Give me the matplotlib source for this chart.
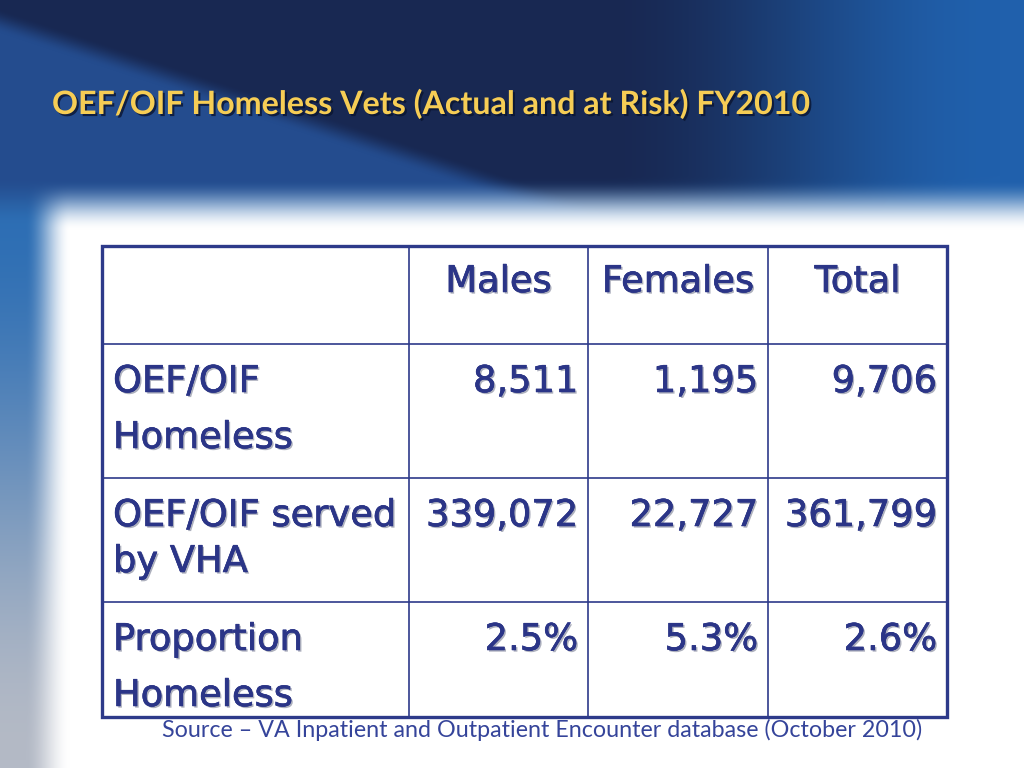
import numpy as np
import matplotlib
matplotlib.use("Agg")
import matplotlib.pyplot as plt
import matplotlib.patheffects as pe

# Table content
title = "OEF/OIF Homeless Vets (Actual and at Risk) FY2010"
source = "Source \u2013 VA Inpatient and Outpatient Encounter database (October 2010)"
columns = ["Males", "Females", "Total"]
row_labels = [["OEF/OIF", "Homeless"], ["OEF/OIF served", "by VHA"], ["Proportion", "Homeless"]]
homeless = [8511, 1195, 9706]
served_by_vha = [339072, 22727, 361799]
proportion_pct = [2.5, 5.3, 2.6]

W, H = 1024, 768
NAVY = "#2b3587"
LINE = "#2e3a8a"


def smoothstep(t):
    t = np.clip(t, 0, 1)
    return t * t * (3 - 2 * t)


def make_background():
    yy, xx = np.mgrid[0:H, 0:W].astype(float)
    navy = np.array([24, 40, 82], float)
    lighter = np.array([36, 76, 142], float)
    right = np.array([32, 96, 172], float)
    base = np.broadcast_to(navy, (H, W, 3)).copy()
    # diagonal lighter wedge on the lower left of the band
    d = yy - (8 + xx * 0.33)
    w = smoothstep(d / 25)[..., None] * (1 - smoothstep((xx - 550) / 200))[..., None]
    base = base * (1 - w) + lighter * w
    # brighter blue toward the right side
    rw = smoothstep((xx - 600) / 400)[..., None]
    base = base * (1 - rw) + right * rw
    # left strip beneath the band: blue fading to grey
    t = smoothstep((yy - 200) / 560)[..., None]
    strip = (1 - t) * np.array([45, 110, 180]) + t * np.array([180, 186, 198])
    k = smoothstep((yy - 175) / 50)[..., None]
    base = (1 - k) * base + k * strip
    # white panel with soft edges
    a = smoothstep((yy - 180) / 50) * smoothstep((xx - 25) / 45)
    img = (1 - a[..., None]) * base + a[..., None] * 255
    return np.clip(img, 0, 255) / 255.0


def fit_text(fig, txt, width):
    r = fig.canvas.get_renderer()
    w = txt.get_window_extent(renderer=r).width
    txt.set_fontsize(txt.get_fontsize() * width / w)


fig = plt.figure(figsize=(W / 100, H / 100), dpi=100)
ax = fig.add_axes([0, 0, 1, 1])
ax.set_xlim(0, W)
ax.set_ylim(H, 0)
ax.axis("off")
ax.imshow(make_background(), extent=(0, W, H, 0), aspect="auto", zorder=0)

# title
t = ax.text(52, 114, title, fontsize=26, fontweight="bold", color="#f6cd55",
            family=["Lato", "DejaVu Sans"], va="baseline", ha="left",
            path_effects=[pe.withSimplePatchShadow(offset=(1.5, -1.5), shadow_rgbFace="#0a1430", alpha=0.8)])
fit_text(fig, t, 758)

# table grid
col_x = [102, 409, 588, 768, 947]
row_y = [246, 344, 478, 602, 717]
for x in col_x[1:-1]:
    ax.plot([x, x], [row_y[0], row_y[-1]], color=LINE, lw=1.2, zorder=2)
for y in row_y[1:-1]:
    ax.plot([col_x[0], col_x[-1]], [y, y], color=LINE, lw=1.2, zorder=2)
ax.add_patch(plt.Rectangle((col_x[0], row_y[0]), col_x[-1] - col_x[0], row_y[-1] - row_y[0],
                           fill=False, ec=LINE, lw=2.4, zorder=3))

effects = [pe.withSimplePatchShadow(offset=(1.2, -1.2), shadow_rgbFace="#6a6f88", alpha=0.55),
           pe.Stroke(linewidth=0.4, foreground=NAVY), pe.Normal()]
cell_kw = dict(fontsize=26.5, color=NAVY, family="DejaVu Sans", va="baseline", path_effects=effects)

# header
for i, c in enumerate(columns):
    ax.text((col_x[i + 1] + col_x[i + 2]) / 2, 292, c, ha="center", **cell_kw)

# rows
rows = [[f"{v:,}" for v in homeless],
        [f"{v:,}" for v in served_by_vha],
        [f"{v:.1f}%" for v in proportion_pct]]
baselines = [(392, 448), (526, 572), (650, 706)]
for r, (lines, vals) in enumerate(zip(row_labels, rows)):
    b1, b2 = baselines[r]
    ax.text(113, b1, lines[0], ha="left", **cell_kw)
    ax.text(113, b2, lines[1], ha="left", **cell_kw)
    for i, v in enumerate(vals):
        ax.text(col_x[i + 2] - 10, b1, v, ha="right", **cell_kw)

# source line
s = ax.text(162, 737, source, fontsize=16, color="#35449a", family=["Lato", "DejaVu Sans"],
            va="baseline", ha="left")
fit_text(fig, s, 764)

fig.savefig("out.png", dpi=100)
